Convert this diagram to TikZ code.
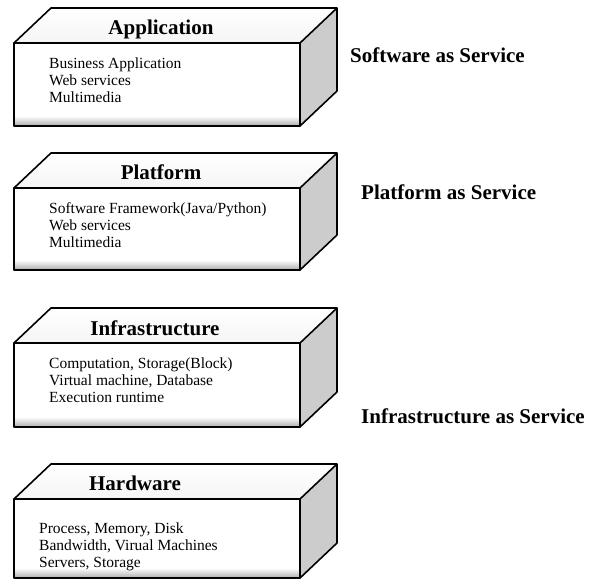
\documentclass[tikz,border=0pt]{standalone}
\usepackage{fontspec}
\setmainfont{Liberation Serif}
\usepackage{tikz}

\tikzset{
	layertitle/.style={font=\fontsize{21}{24}\selectfont\bfseries, anchor=base, inner sep=0pt},
	layerbody/.style={font=\fontsize{15.5}{17}\selectfont, align=left, anchor=north west, inner sep=0pt},
	service/.style={font=\fontsize{21}{24}\selectfont\bfseries, anchor=base west, inner sep=0pt},
	edge/.style={line width=1.6pt, line join=round}
}

\begin{document}
\begin{tikzpicture}[x=1pt, y=-1pt]
	\useasboundingbox (0,0) rectangle (596,580);

	% the four layer blocks: top y / bottom y
	\foreach \t/\b in {8/126, 153/270, 308/427, 464/578} {
		\fill[white] (14,\t+35) rectangle (300,\b);
		\shade[top color=white, bottom color=gray!65] (14,\b-10) rectangle (300,\b);
		\fill[top color=white, bottom color=gray!8] (14,\t+35) -- (51,\t) -- (337,\t) -- (300,\t+35) -- cycle;
		\fill[fill=gray!40] (300,\t+35) -- (337,\t) -- (337,\b-35) -- (300,\b) -- cycle;
		\draw[edge] (14,\t+35) rectangle (300,\b);
		\draw[edge] (14,\t+35) -- (51,\t) -- (337,\t) -- (337,\b-35) -- (300,\b);
		\draw[edge] (300,\t+35) -- (337,\t);
	}

	\node[layertitle] (apptitle) at (161,35) {Application};
	\node[layerbody] (appbody) at (49,58) {Business Application\\Web services\\Multimedia};

	\node[layertitle] (plattitle) at (161,179) {Platform};
	\node[layerbody] (platbody) at (49,202) {Software Framework(Java/Python)\\Web services\\Multimedia};

	\node[layertitle] (infratitle) at (155,335) {Infrastructure};
	\node[layerbody] (infrabody) at (49,358) {Computation, Storage(Block)\\Virtual machine, Database\\Execution runtime};

	\node[layertitle] (hwtitle) at (135,490) {Hardware};
	\node[layerbody] (hwbody) at (39,523) {Process, Memory, Disk\\Bandwidth, Virual Machines\\Servers, Storage};

	\node[service] (saas) at (350,63) {Software as Service};
	\node[service] (paas) at (361,199) {Platform as Service};
	\node[service] (iaas) at (361,423) {Infrastructure as Service};

\end{tikzpicture}
\end{document}
